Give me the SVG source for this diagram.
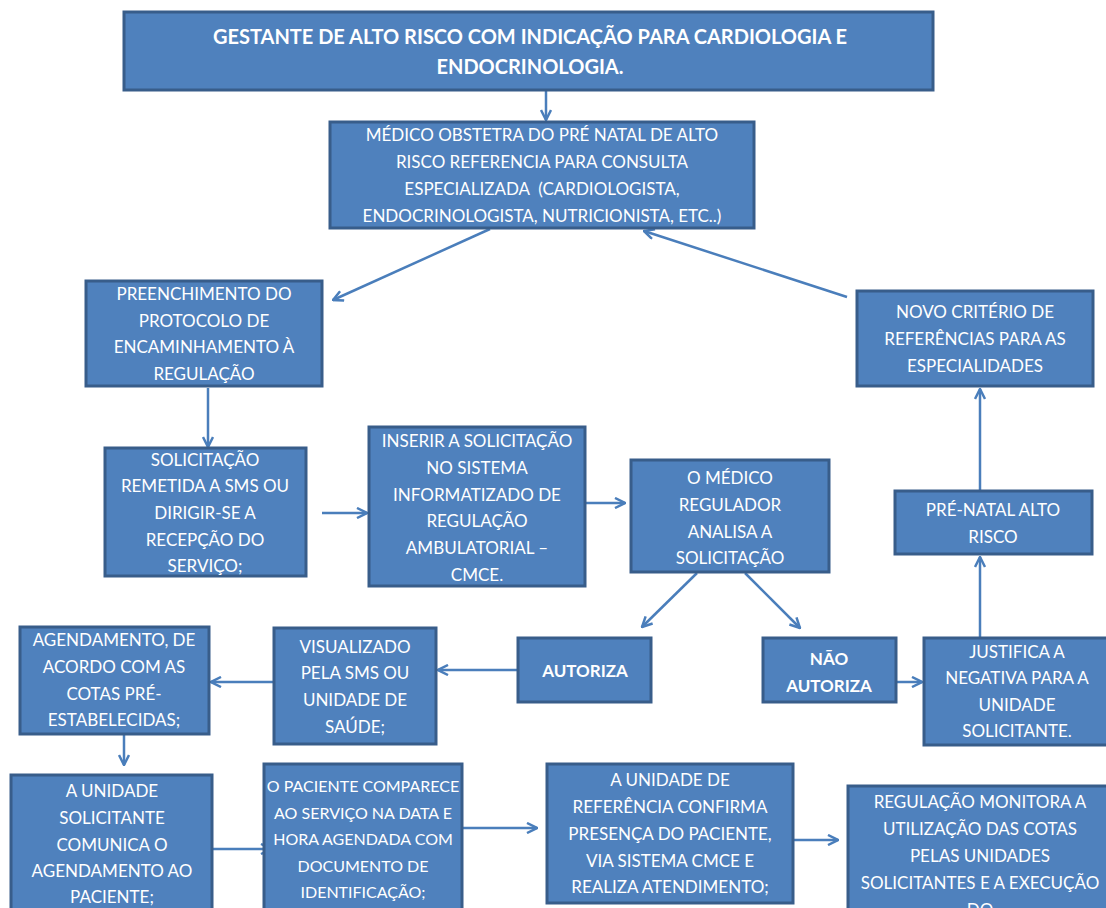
<svg xmlns="http://www.w3.org/2000/svg" width="1106" height="908" viewBox="0 0 1106 908">
<style>
.box{fill:#4F81BD;stroke:#385D8A;stroke-width:3}
.t{fill:#FFFFFF;font-family:Lato,"Liberation Sans",sans-serif;font-size:17px;text-anchor:middle}
.b{font-weight:bold}
.h{font-size:20px}
.s{font-size:16px}
.c{fill:none;stroke:#4A7EBB;stroke-width:2.5}
</style>
<defs>
<marker id="ah" viewBox="0 0 12 12" refX="11" refY="6" markerWidth="12" markerHeight="12" markerUnits="userSpaceOnUse" orient="auto">
<path d="M1,1 L11,6 L1,11" fill="none" stroke="#4A7EBB" stroke-width="2.5"/>
</marker>
</defs>
<rect width="1106" height="908" fill="#FFFFFF"/>
<g id="connectors">
<line class="c" x1="546" y1="91" x2="546" y2="120" marker-end="url(#ah)"/>
<line class="c" x1="490" y1="229" x2="333" y2="300" marker-end="url(#ah)"/>
<line class="c" x1="847" y1="297" x2="644" y2="231" marker-end="url(#ah)"/>
<line class="c" x1="208" y1="388" x2="208" y2="447" marker-end="url(#ah)"/>
<line class="c" x1="322" y1="513" x2="367" y2="513" marker-end="url(#ah)"/>
<line class="c" x1="586" y1="503" x2="625" y2="503" marker-end="url(#ah)"/>
<line class="c" x1="697" y1="573" x2="642" y2="627" marker-end="url(#ah)"/>
<line class="c" x1="745" y1="573" x2="800" y2="628" marker-end="url(#ah)"/>
<line class="c" x1="518" y1="670" x2="438" y2="670" marker-end="url(#ah)"/>
<line class="c" x1="293" y1="682" x2="211" y2="682" marker-end="url(#ah)"/>
<line class="c" x1="124" y1="733" x2="124" y2="765" marker-end="url(#ah)"/>
<line class="c" x1="213" y1="849" x2="271" y2="849" marker-end="url(#ah)"/>
<line class="c" x1="463" y1="828" x2="537" y2="828" marker-end="url(#ah)"/>
<line class="c" x1="794" y1="840" x2="838" y2="840" marker-end="url(#ah)"/>
<line class="c" x1="897" y1="682" x2="922" y2="682" marker-end="url(#ah)"/>
<line class="c" x1="980" y1="637" x2="980" y2="557" marker-end="url(#ah)"/>
<line class="c" x1="980" y1="490" x2="980" y2="389" marker-end="url(#ah)"/>
</g>
<g id="n1">
<rect class="box" x="124" y="12" width="809" height="78"/>
<text class="t b h" x="530" y="44">GESTANTE DE ALTO RISCO COM INDICAÇÃO PARA CARDIOLOGIA E</text>
<text class="t b h" x="530" y="74">ENDOCRINOLOGIA.</text>
</g>
<g id="n2">
<rect class="box" x="330" y="122" width="424" height="106"/>
<text class="t" x="542" y="141">MÉDICO OBSTETRA DO PRÉ NATAL DE ALTO</text>
<text class="t" x="542" y="168">RISCO REFERENCIA PARA CONSULTA</text>
<text class="t" x="542" y="195" xml:space="preserve">ESPECIALIZADA  (CARDIOLOGISTA,</text>
<text class="t" x="542" y="222">ENDOCRINOLOGISTA, NUTRICIONISTA, ETC..)</text>
</g>
<g id="n3">
<rect class="box" x="86" y="281" width="236" height="105"/>
<text class="t" x="204" y="300">PREENCHIMENTO DO</text>
<text class="t" x="204" y="327">PROTOCOLO DE</text>
<text class="t" x="204" y="353">ENCAMINHAMENTO À</text>
<text class="t" x="204" y="380">REGULAÇÃO</text>
</g>
<g id="n4">
<rect class="box" x="105" y="448" width="201" height="128"/>
<text class="t" x="205" y="466">SOLICITAÇÃO</text>
<text class="t" x="205" y="492">REMETIDA A SMS OU</text>
<text class="t" x="205" y="519">DIRIGIR-SE A</text>
<text class="t" x="205" y="546">RECEPÇÃO DO</text>
<text class="t" x="205" y="572">SERVIÇO;</text>
</g>
<g id="n5">
<rect class="box" x="369" y="427" width="216" height="159"/>
<text class="t" x="477" y="447">INSERIR A SOLICITAÇÃO</text>
<text class="t" x="477" y="474">NO SISTEMA</text>
<text class="t" x="477" y="501">INFORMATIZADO DE</text>
<text class="t" x="477" y="527">REGULAÇÃO</text>
<text class="t" x="477" y="554">AMBULATORIAL –</text>
<text class="t" x="477" y="581">CMCE.</text>
</g>
<g id="n6">
<rect class="box" x="631" y="460" width="198" height="112"/>
<text class="t" x="730" y="484">O MÉDICO</text>
<text class="t" x="730" y="511">REGULADOR</text>
<text class="t" x="730" y="538">ANALISA A</text>
<text class="t" x="730" y="564">SOLICITAÇÃO</text>
</g>
<g id="n7">
<rect class="box" x="518" y="638" width="133" height="64"/>
<text class="t b" x="585" y="677">AUTORIZA</text>
</g>
<g id="n8">
<rect class="box" x="763" y="638" width="133" height="64"/>
<text class="t b" x="829" y="665">NÃO</text>
<text class="t b" x="829" y="692">AUTORIZA</text>
</g>
<g id="n9">
<rect class="box" x="274" y="628" width="162" height="116"/>
<text class="t" x="355" y="653">VISUALIZADO</text>
<text class="t" x="355" y="679">PELA SMS OU</text>
<text class="t" x="355" y="706">UNIDADE DE</text>
<text class="t" x="355" y="733">SAÚDE;</text>
</g>
<g id="n10">
<rect class="box" x="20" y="627" width="189" height="107"/>
<text class="t" x="114" y="646">AGENDAMENTO, DE</text>
<text class="t" x="114" y="673">ACORDO COM AS</text>
<text class="t" x="114" y="700">COTAS PRÉ-</text>
<text class="t" x="114" y="726">ESTABELECIDAS;</text>
</g>
<g id="n11">
<rect class="box" x="11" y="775" width="201" height="140"/>
<text class="t" x="112" y="797">A UNIDADE</text>
<text class="t" x="112" y="824">SOLICITANTE</text>
<text class="t" x="112" y="851">COMUNICA O</text>
<text class="t" x="112" y="877">AGENDAMENTO AO</text>
<text class="t" x="112" y="903">PACIENTE;</text>
</g>
<g id="n12">
<rect class="box" x="264" y="764" width="198" height="150"/>
<text class="t s" x="363" y="792">O PACIENTE COMPARECE</text>
<text class="t s" x="363" y="819">AO SERVIÇO NA DATA E</text>
<text class="t s" x="363" y="845">HORA AGENDADA COM</text>
<text class="t s" x="363" y="872">DOCUMENTO DE</text>
<text class="t s" x="363" y="898">IDENTIFICAÇÃO;</text>
</g>
<g id="n13">
<rect class="box" x="547" y="764" width="246" height="139"/>
<text class="t" x="670" y="786">A UNIDADE DE</text>
<text class="t" x="670" y="813">REFERÊNCIA CONFIRMA</text>
<text class="t" x="670" y="840">PRESENÇA DO PACIENTE,</text>
<text class="t" x="670" y="867">VIA SISTEMA CMCE E</text>
<text class="t" x="670" y="893">REALIZA ATENDIMENTO;</text>
</g>
<g id="n14">
<rect class="box" x="848" y="786" width="262" height="130"/>
<text class="t" x="980" y="808">REGULAÇÃO MONITORA A</text>
<text class="t" x="980" y="835">UTILIZAÇÃO DAS COTAS</text>
<text class="t" x="980" y="862">PELAS UNIDADES</text>
<text class="t" x="980" y="889">SOLICITANTES E A EXECUÇÃO</text>
<text class="t" x="980" y="916">DO</text>
</g>
<g id="n15">
<rect class="box" x="857" y="291" width="236" height="95"/>
<text class="t" x="975" y="318">NOVO CRITÉRIO DE</text>
<text class="t" x="975" y="345">REFERÊNCIAS PARA AS</text>
<text class="t" x="975" y="372">ESPECIALIDADES</text>
</g>
<g id="n16">
<rect class="box" x="895" y="491" width="197" height="63"/>
<text class="t" x="993" y="516">PRÉ-NATAL ALTO</text>
<text class="t" x="993" y="543">RISCO</text>
</g>
<g id="n17">
<rect class="box" x="924" y="638" width="190" height="107"/>
<text class="t" x="1017" y="658">JUSTIFICA A</text>
<text class="t" x="1017" y="684">NEGATIVA PARA A</text>
<text class="t" x="1017" y="711">UNIDADE</text>
<text class="t" x="1017" y="737">SOLICITANTE.</text>
</g>
</svg>
